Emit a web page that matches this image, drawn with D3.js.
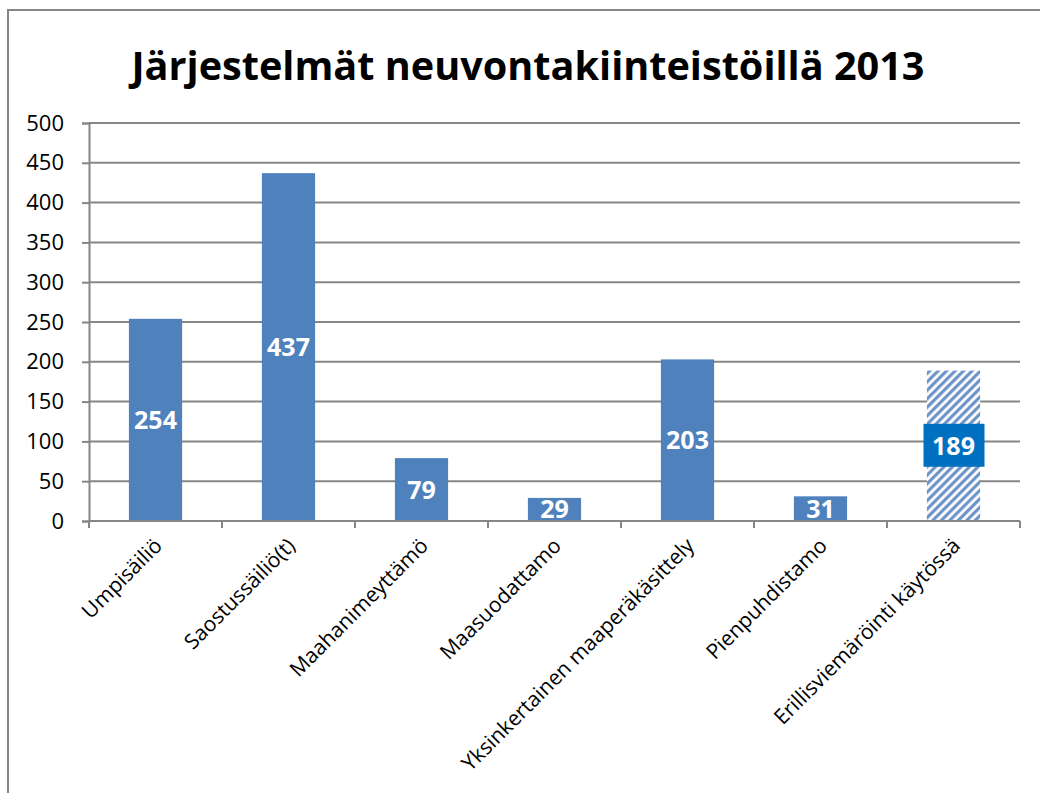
<!doctype html>
<html lang="fi">
<head>
    <meta charset="UTF-8">
    <title>Järjestelmät neuvontakiinteistöillä 2013</title>
    <script src="https://d3js.org/d3.v7.min.js"></script>
    <style>
        body { margin: 0; background: #fff; }
        svg { display: block; }
    </style>
</head>
<body>
<script>
    var categories = ['Umpisäiliö', 'Saostussäiliö(t)', 'Maahanimeyttämö', 'Maasuodattamo',
        'Yksinkertainen maaperäkäsittely', 'Pienpuhdistamo', 'Erillisviemäröinti käytössä'];
    var values = [254, 437, 79, 29, 203, 31, 189];
    var hatched = [false, false, false, false, false, false, true];
    var yTicks = [0, 50, 100, 150, 200, 250, 300, 350, 400, 450, 500];
    var title = 'Järjestelmät neuvontakiinteistöillä 2013';

    var width = 1040, height = 793;
    var plotLeft = 89, plotRight = 1020, plotTop = 123, plotBottom = 521;
    var grey = '#868686';
    var blue = '#4f81bd';

    var svg = d3.select('body').append('svg')
        .attr('width', width)
        .attr('height', height);

    // hatch pattern for the last bar
    var pat = svg.append('defs').append('pattern')
        .attr('id', 'hatch')
        .attr('patternUnits', 'userSpaceOnUse')
        .attr('width', 6).attr('height', 6)
        .attr('patternTransform', 'rotate(45)');
    pat.append('rect').attr('width', 6).attr('height', 6).attr('fill', '#fff');
    pat.append('rect').attr('width', 3.2).attr('height', 6).attr('fill', '#6d95c8');

    // chart frame
    svg.append('rect')
        .attr('x', 8).attr('y', 10)
        .attr('width', 1100).attr('height', 900)
        .attr('fill', 'none')
        .attr('stroke', grey)
        .attr('stroke-width', 2);

    var x = d3.scaleBand().domain(categories).range([plotLeft, plotRight]).padding(0);
    var y = d3.scaleLinear().domain([0, 500]).range([plotBottom, plotTop]);

    // gridlines
    svg.append('g').selectAll('line')
        .data(yTicks.filter(function(d){ return d > 0; }))
        .enter().append('line')
        .attr('x1', plotLeft).attr('x2', plotRight)
        .attr('y1', function(d){ return y(d); })
        .attr('y2', function(d){ return y(d); })
        .attr('stroke', grey)
        .attr('stroke-width', 2);

    // y axis
    var yAxis = svg.append('g')
        .attr('transform', 'translate(' + plotLeft + ',0)')
        .call(d3.axisLeft(y).tickValues(yTicks).tickSize(7).tickPadding(18));
    yAxis.select('.domain').attr('stroke', grey).attr('stroke-width', 2);
    yAxis.selectAll('.tick line').attr('stroke', grey).attr('stroke-width', 2);
    yAxis.selectAll('.tick text')
        .attr('fill', '#000')
        .style('font-family', '"Open Sans", sans-serif')
        .style('font-size', '22px');

    // bars
    var barW = x.bandwidth() * 0.4;
    svg.append('g').selectAll('rect')
        .data(values)
        .enter().append('rect')
        .attr('x', function(d, i){ return x(categories[i]) + (x.bandwidth() - barW) / 2; })
        .attr('y', function(d){ return y(d); })
        .attr('width', barW)
        .attr('height', function(d){ return y(0) - y(d); })
        .attr('fill', function(d, i){ return hatched[i] ? 'url(#hatch)' : blue; });

    // x axis
    var xAxis = svg.append('g')
        .attr('transform', 'translate(0,' + plotBottom + ')');
    xAxis.append('line')
        .attr('x1', plotLeft).attr('x2', plotRight)
        .attr('stroke', grey).attr('stroke-width', 2);
    xAxis.selectAll('line.tk')
        .data(categories.concat(['end']))
        .enter().append('line')
        .attr('class', 'tk')
        .attr('x1', function(d, i){ return plotLeft + i * x.step(); })
        .attr('x2', function(d, i){ return plotLeft + i * x.step(); })
        .attr('y1', 0).attr('y2', 7)
        .attr('stroke', grey).attr('stroke-width', 2);

    xAxis.selectAll('text')
        .data(categories)
        .enter().append('text')
        .attr('transform', function(d){
            return 'translate(' + (x(d) + x.bandwidth() / 2 + 8) + ',26) rotate(-45)';
        })
        .attr('text-anchor', 'end')
        .style('font-family', '"Open Sans", sans-serif')
        .style('font-size', '21px')
        .attr('fill', '#000')
        .text(function(d){ return d; });

    // data labels
    var lbl = svg.append('g').selectAll('g')
        .data(values)
        .enter().append('g')
        .attr('transform', function(d, i){
            return 'translate(' + (x(categories[i]) + x.bandwidth() / 2) + ',' + y(d / 2) + ')';
        });
    lbl.filter(function(d, i){ return hatched[i]; })
        .append('rect')
        .attr('x', -30).attr('y', -22)
        .attr('width', 61).attr('height', 43)
        .attr('fill', '#0070c0');
    lbl.append('text')
        .attr('text-anchor', 'middle')
        .attr('dy', '0.36em')
        .attr('fill', '#fff')
        .style('font-family', '"Open Sans", sans-serif')
        .style('font-weight', 'bold')
        .style('font-size', '25px')
        .text(function(d){ return d; });

    // title
    var t = svg.append('text')
        .attr('x', 528).attr('y', 80)
        .attr('text-anchor', 'middle')
        .style('font-family', '"Open Sans", sans-serif')
        .style('font-weight', 'bold')
        .style('font-size', '40px')
        .attr('fill', '#000')
        .text(title);
    var tw = t.node().getComputedTextLength();
    if (tw > 793) t.attr('textLength', 793).attr('lengthAdjust', 'spacingAndGlyphs');
</script>
</body>
</html>
